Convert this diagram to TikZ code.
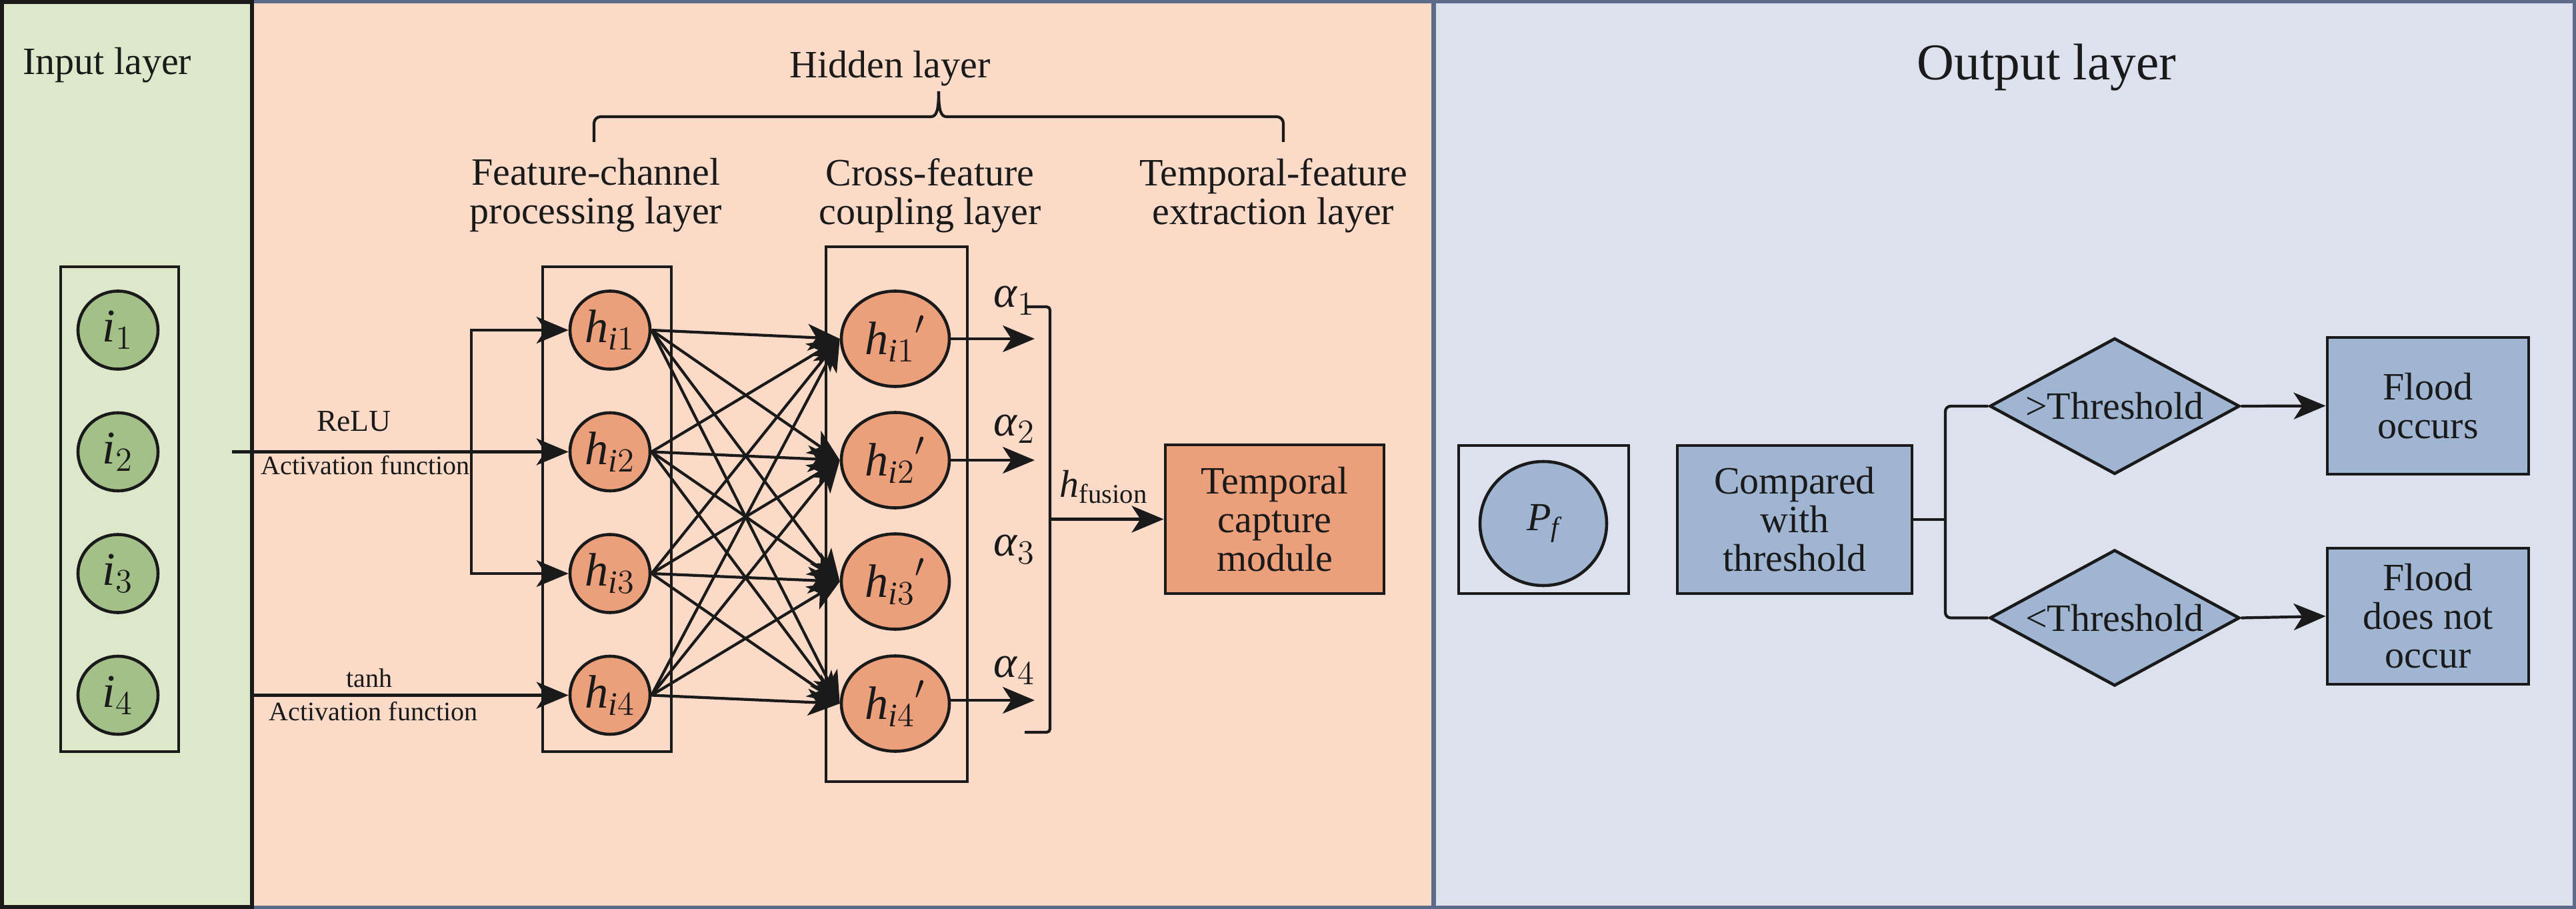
\documentclass[tikz,border=0pt]{standalone}
\usepackage{fontspec}
\setmainfont{Liberation Serif}
\usetikzlibrary{shapes.geometric,arrows.meta}

\definecolor{ink}{HTML}{1A1A1A}
\definecolor{ingreen}{HTML}{DDE8CB}
\definecolor{nodegreen}{HTML}{A3C088}
\definecolor{hidpeach}{HTML}{FBDAC8}
\definecolor{nodeorange}{HTML}{EBA07B}
\definecolor{outblue}{HTML}{DBE2EE}
\definecolor{nodeblue}{HTML}{A0B5D2}
\definecolor{edgeblue}{HTML}{5B6B88}

\newcommand{\hvar}[1]{$\mathit{h}_{\mathit{i}#1}$}
\newcommand{\hpvar}[1]{${\mathit{h}_{\mathit{i}#1}}'$}
\newcommand{\attw}[1]{$\mbox{\textit{α}}_{#1}$}

\tikzset{
  lw/.style={line width=1.2pt, draw=ink},
  arr/.style={lw, -{Stealth[length=0.48cm,width=0.40cm,inset=0.13cm]}},
  labfont/.style={font=\fontsize{16.5}{16.5}\selectfont, text=ink},
  smallfont/.style={font=\fontsize{11.4}{12}\selectfont, text=ink},
  boxframe/.style={draw=ink, line width=1.4pt},
  innode/.style={ellipse, draw=ink, line width=1.3pt, fill=nodegreen, inner sep=0pt,
    minimum width=1.20cm, minimum height=1.17cm, font=\fontsize{20}{24}\selectfont, text=ink},
  hnode/.style={innode, fill=nodeorange},
  hpnode/.style={hnode, minimum width=1.62cm, minimum height=1.43cm},
  outbox/.style={rectangle, draw=ink, line width=1.4pt, fill=nodeblue, labfont, align=center, inner sep=0pt},
  testbox/.style={diamond, aspect=1.84, draw=ink, line width=1.3pt, fill=nodeblue, labfont, inner sep=0pt,
    minimum width=3.75cm, minimum height=2.04cm},
}

\begin{document}
\begin{tikzpicture}
        \useasboundingbox (0,0) rectangle (38.64,-13.63);

        % Background panels
        \fill[outblue] (0,0) rectangle (38.64,-13.63);
        \fill[hidpeach] (3.78,0) rectangle (21.48,-13.63);
        \draw[edgeblue, line width=1.4pt] (0.025,-0.025) rectangle (38.615,-13.605);
        \draw[edgeblue, line width=2pt] (21.50,0) -- (21.50,-13.63);
        \fill[ingreen] (0,0) rectangle (3.78,-13.63);
        \draw[ink, line width=1.6pt] (0.03,-0.03) rectangle (3.78,-13.60);

        % Input layer
        \node[labfont, anchor=base west] (inlab) at (0.22,-1.12) {Input layer};
        \draw[boxframe] (0.91,-4.00) rectangle (2.68,-11.27);
        \node[innode] (i1) at (1.77,-4.95) {$\mathit{i}_1$};
        \node[innode] (i2) at (1.77,-6.775) {$\mathit{i}_2$};
        \node[innode] (i3) at (1.77,-8.60) {$\mathit{i}_3$};
        \node[innode] (i4) at (1.77,-10.425) {$\mathit{i}_4$};

        % Hidden layer titles and brace
        \node[labfont, anchor=base] (hidlab) at (13.35,-1.17) {Hidden layer};
        \draw[lw, rounded corners=0.1cm] (8.91,-2.13) -- (8.91,-1.75) -- (13.96,-1.75);
        \draw[lw] (13.96,-1.75) .. controls (14.05,-1.75) and (14.08,-1.65) .. (14.08,-1.37);
        \draw[lw] (14.08,-1.37) .. controls (14.08,-1.65) and (14.11,-1.75) .. (14.20,-1.75);
        \draw[lw, rounded corners=0.1cm] (14.20,-1.75) -- (19.25,-1.75) -- (19.25,-2.13);
        \node[labfont, align=center] (fclab) at (8.94,-2.93) {Feature-channel\\processing layer};
        \node[labfont, align=center] (cflab) at (13.95,-2.93) {Cross-feature\\coupling layer};
        \node[labfont, align=center] (tflab) at (19.10,-2.93) {Temporal-feature\\extraction layer};

        % Feature-channel processing layer
        \draw[boxframe] (8.14,-4.00) rectangle (10.07,-11.27);
        \node[hnode] (h1) at (9.15,-4.95) {\hvar{1}};
        \node[hnode] (h2) at (9.15,-6.775) {\hvar{2}};
        \node[hnode] (h3) at (9.15,-8.60) {\hvar{3}};
        \node[hnode] (h4) at (9.15,-10.425) {\hvar{4}};

        % Activation functions
        \coordinate (relu0) at (3.48,-6.775);
        \coordinate (brj) at (7.07,-6.775);
        \coordinate (tanh0) at (3.78,-10.425);
        \draw[arr] (relu0) -- (h2.west);
        \draw[arr] (brj) |- (h1.west);
        \draw[arr] (brj) |- (h3.west);
        \draw[arr] (tanh0) -- (h4.west);
        \node[font=\fontsize{13}{14}\selectfont, text=ink, anchor=base] (relulab) at (5.31,-6.47) {ReLU};
        \node[smallfont, anchor=base] (act1) at (5.48,-7.11) {Activation function};
        \node[smallfont, anchor=base] (tanhlab) at (5.54,-10.30) {tanh};
        \node[smallfont, anchor=base] (act2) at (5.60,-10.80) {Activation function};

        % Cross-feature coupling layer
        \draw[boxframe] (12.39,-3.70) rectangle (14.51,-11.72);
        \node[hpnode] (hp1) at (13.43,-5.08) {\hpvar{1}};
        \node[hpnode] (hp2) at (13.43,-6.90) {\hpvar{2}};
        \node[hpnode] (hp3) at (13.43,-8.72) {\hpvar{3}};
        \node[hpnode] (hp4) at (13.43,-10.55) {\hpvar{4}};

        % Full coupling between the two layers
        \draw[arr] (h1.east) -- (hp1.west); \draw[arr] (h1.east) -- (hp2.west); \draw[arr] (h1.east) -- (hp3.west); \draw[arr] (h1.east) -- (hp4.west);
        \draw[arr] (h2.east) -- (hp1.west); \draw[arr] (h2.east) -- (hp2.west); \draw[arr] (h2.east) -- (hp3.west); \draw[arr] (h2.east) -- (hp4.west);
        \draw[arr] (h3.east) -- (hp1.west); \draw[arr] (h3.east) -- (hp2.west); \draw[arr] (h3.east) -- (hp3.west); \draw[arr] (h3.east) -- (hp4.west);
        \draw[arr] (h4.east) -- (hp1.west); \draw[arr] (h4.east) -- (hp2.west); \draw[arr] (h4.east) -- (hp3.west); \draw[arr] (h4.east) -- (hp4.west);

        % Attention weights and fusion
        \node[font=\fontsize{19}{22}\selectfont, text=ink, anchor=base west] (al1) at (14.78,-4.61) {\attw{1}};
        \node[font=\fontsize{19}{22}\selectfont, text=ink, anchor=base west] (al2) at (14.78,-6.53) {\attw{2}};
        \node[font=\fontsize{19}{22}\selectfont, text=ink, anchor=base west] (al3) at (14.78,-8.34) {\attw{3}};
        \node[font=\fontsize{19}{22}\selectfont, text=ink, anchor=base west] (al4) at (14.78,-10.15) {\attw{4}};
        \coordinate (a1) at (15.52,-5.08);
        \coordinate (a2) at (15.52,-6.90);
        \coordinate (a4) at (15.52,-10.50);
        \draw[arr] (hp1.east) -- (a1);
        \draw[arr] (hp2.east) -- (a2);
        \draw[arr] (hp4.east |- a4) -- (a4);
        \draw[lw, rounded corners=0.05cm] (15.37,-4.60) -- (15.75,-4.60) -- (15.75,-10.98) -- (15.37,-10.98);

        % Temporal-feature extraction layer
        \node[outbox, fill=nodeorange, minimum width=3.28cm, minimum height=2.23cm] (tcm) at (19.12,-7.785) {Temporal\\capture\\module};
        \coordinate (fus) at (15.75,-7.785);
        \draw[arr] (fus) -- (tcm.west);
        \node[labfont, anchor=base] (fuslab) at (16.56,-7.45) {$\mathit{h}_{\mathrm{fusion}}$};

        % Output layer
        \node[font=\fontsize{22}{26}\selectfont, text=ink, anchor=base] (outlab) at (30.70,-1.20) {Output layer};
        \draw[boxframe] (21.88,-6.68) rectangle (24.43,-8.90);
        \node[innode, fill=nodeblue, minimum width=1.90cm, minimum height=1.86cm, font=\fontsize{17}{20}\selectfont] (pf) at (23.15,-7.85) {$\mathit{P}_{\mathit{f}}$};
        \node[outbox, minimum width=3.52cm, minimum height=2.22cm] (cmp) at (26.92,-7.79) {Compared\\with\\threshold};
        \node[testbox] (dgt) at (31.72,-6.09) {>Threshold};
        \node[testbox] (dlt) at (31.72,-9.265) {<Threshold};
        \node[outbox, minimum width=3.02cm, minimum height=2.05cm] (fo) at (36.42,-6.085) {Flood\\occurs};
        \node[outbox, minimum width=3.02cm, minimum height=2.04cm] (fn) at (36.42,-9.24) {Flood\\does not\\occur};
        \coordinate (jn) at (29.18,-7.79);
        \draw[lw] (cmp.east) -- (jn);
        \draw[lw, rounded corners=0.08cm] (dgt.west) -| (jn) |- (dlt.west);
        \draw[arr] (dgt.east) -- (fo.west);
        \draw[arr] (dlt.east) -- (fn.west);
\end{tikzpicture}
\end{document}
